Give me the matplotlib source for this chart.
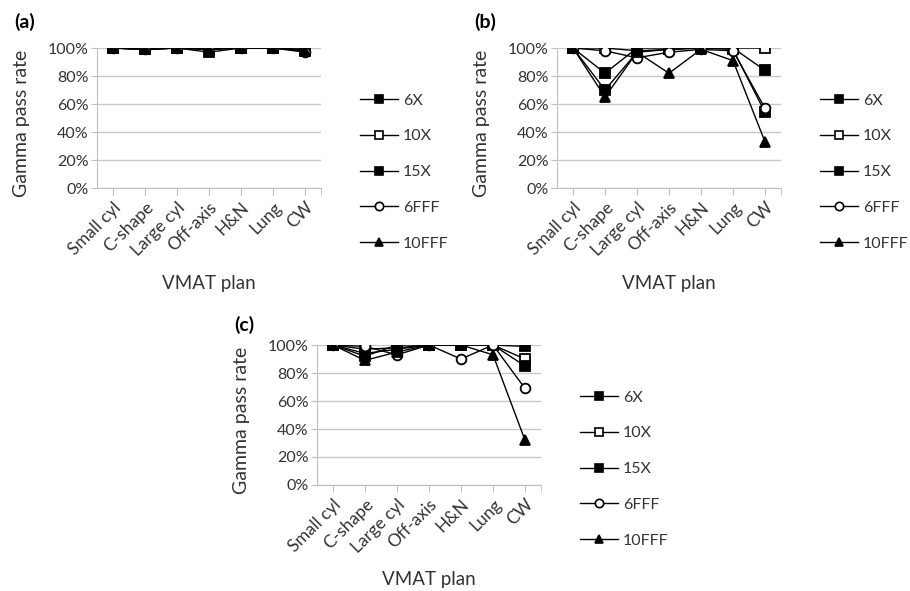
import numpy as np
import matplotlib
matplotlib.use("Agg")
import matplotlib.pyplot as plt
from matplotlib.lines import Line2D
from matplotlib.ticker import PercentFormatter

plt.rcParams['font.family'] = ['Lato', 'DejaVu Sans']

plans = ["Small cyl", "C-shape", "Large cyl", "Off-axis", "H&N", "Lung", "CW"]
energies = ["6X", "10X", "15X", "6FFF", "10FFF"]

# gamma pass rates (%) per panel, per energy
a_6x    = [100, 99, 100, 100, 100, 100, 100]
a_10x   = [100, 100, 100, 99, 100, 100, 99]
a_15x   = [100, 99, 100, 97, 100, 100, 98]
a_6fff  = [100, 99, 100, 99, 100, 100, 97]
a_10fff = [100, 99, 100, 99, 100, 100, 98]

b_6x    = [100, 82, 100, 100, 100, 100, 84]
b_10x   = [100, 100, 98, 99, 100, 100, 100]
b_15x   = [100, 70, 97, 99, 100, 99, 54]
b_6fff  = [100, 98, 93, 97, 99, 98, 57]
b_10fff = [100, 65, 97, 82, 99, 91, 33]

c_6x    = [100, 92, 100, 100, 100, 100, 99]
c_10x   = [100, 97, 98, 100, 100, 100, 90]
c_15x   = [100, 94, 97, 100, 100, 100, 85]
c_6fff  = [100, 99, 93, 100, 90, 100, 69]
c_10fff = [100, 89, 95, 100, 100, 93, 32]

styles = {
    "6X":    dict(marker="s", mfc="black"),
    "10X":   dict(marker="s", mfc="white"),
    "15X":   dict(marker="s", mfc="black"),
    "6FFF":  dict(marker="o", mfc="white"),
    "10FFF": dict(marker="^", mfc="black"),
}

TXT = "#333333"
W, H = 910, 591
fig = plt.figure(figsize=(W / 100, H / 100), dpi=100)

def px_axes(left, top, right, bottom):
    return fig.add_axes([left / W, 1 - bottom / H, (right - left) / W, (bottom - top) / H])

def panel(left, top, right, bottom, data, tag, tag_y, leg_x, leg_y):
    ax = px_axes(left, top, right, bottom)
    w, h = right - left, bottom - top
    x = np.arange(len(plans))
    for name, vals in zip(energies, data):
        st = styles[name]
        ax.plot(x, vals, color="black", lw=1, marker=st["marker"], ms=7,
                mfc=st["mfc"], mec="black", mew=1.3)
    ax.set_xlim(-0.5, len(plans) - 0.5)
    ax.set_ylim(0, 100)
    ax.set_yticks(np.arange(0, 101, 20))
    ax.yaxis.set_major_formatter(PercentFormatter(decimals=0))
    ax.set_xticks(x)
    ax.set_xticks([len(plans) - 0.5], minor=True)
    ax.set_xticklabels(plans, rotation=45, ha="right", rotation_mode="anchor")
    ax.grid(axis="y", color="#c8c8c8", lw=1)
    ax.set_axisbelow(True)
    for s in ["left", "bottom"]:
        ax.spines[s].set_color("#bfbfbf")
    ax.spines["top"].set_visible(False)
    ax.spines["right"].set_visible(False)
    ax.tick_params(axis="both", which="both", color="#bfbfbf", labelsize=11.5, labelcolor=TXT)
    ax.tick_params(axis="x", which="both", length=5, pad=3, labelsize=12.5)
    ax.tick_params(axis="y", length=4, pad=2)
    ax.set_xlabel("VMAT plan", fontsize=13.5, color=TXT, va="center")
    ax.xaxis.set_label_coords(0.5, -95 / h)
    ax.set_ylabel("Gamma pass rate", fontsize=14, color=TXT, va="center")
    ax.yaxis.set_label_coords(-75 / w, 0.465)
    fig.text((left - 83) / W, 1 - tag_y / H, tag, fontsize=14, fontweight="bold",
             va="center", ha="left")
    handles = [Line2D([], [], color="black", lw=1, marker=styles[n]["marker"], ms=6,
                      mfc=styles[n]["mfc"], mec="black", mew=1.2) for n in energies]
    ax.legend(handles, energies, loc="center left", bbox_to_anchor=(leg_x / W, 1 - leg_y / H),
              bbox_transform=fig.transFigure, frameon=False, fontsize=11.5, labelspacing=1.35,
              handlelength=2.4, handletextpad=0.3, borderpad=0, labelcolor=TXT)
    return ax

panel(97, 48, 321, 188, [a_6x, a_10x, a_15x, a_6fff, a_10fff], "(a)", 22, 352, 172)
panel(557, 48, 781, 188, [b_6x, b_10x, b_15x, b_6fff, b_10fff], "(b)", 22, 812, 172)
panel(317, 345, 541, 485, [c_6x, c_10x, c_15x, c_6fff, c_10fff], "(c)", 325, 572, 469)

fig.savefig("out.png", dpi=100)
